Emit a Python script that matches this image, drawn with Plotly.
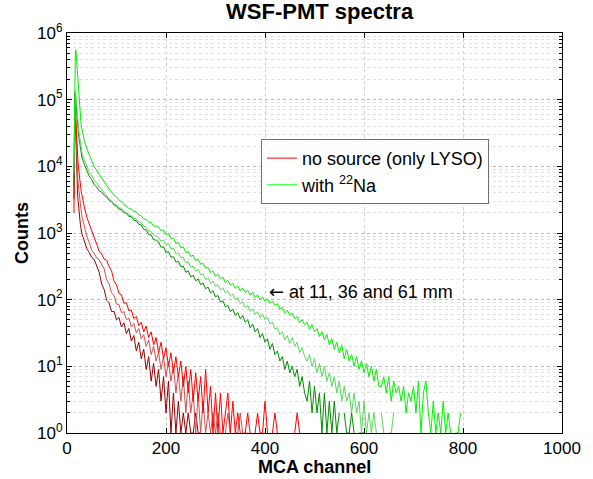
import plotly.graph_objects as go

# MCA channel grid (fine at the peak, every 5 channels afterwards)
CHANNELS = list(range(12, 31)) + list(range(35, 805, 5))

# ---- with 22Na (bright / medium / dark green = 11, 36, 61 mm) ----
NA_11MM = [0, 0, 14000, 150000, 380000, 540000, 560000, 420000, 330000, 262000,
           205000, 152000, 117000, 91000, 71000, 57500, 47000, 40000, 36000,
           24300, 18600, 14400, 12100, 9900, 8700, 7400, 6600, 5750, 5150,
           4550, 4150, 3700, 3500, 3100, 2950, 2650, 2540, 2320, 2280,
           2120, 2060, 1870, 1810, 1620, 1590, 1450, 1430, 1280, 1270,
           1230, 1080, 1110, 950, 985, 830, 840, 700, 720, 600,
           620, 505, 530, 445, 465, 385, 405, 340, 350, 295,
           305, 255, 270, 225, 240, 205, 218, 180, 195, 165,
           176, 148, 160, 135, 150, 128, 138, 117, 128, 108,
           118, 99, 110, 94, 103, 88, 96, 82, 87, 72,
           77, 63, 70, 58, 63, 52, 56, 45, 50, 42,
           46, 36, 42, 33, 37, 28, 33, 25, 30, 21,
           26, 18, 23, 16, 21, 13, 18, 12, 15, 10,
           14, 9, 12, 8, 11, 7, 10, 6, 9, 5,
           5, 7, 4, 7, 3, 6, 4, 5, 3, 5,
           2, 4, 3, 5, 2, 6, 1, 4, 6, 2,
           1, 3, 1, 2, 1, 3, 1, 2, 1, 0,
           1, 1, 2]

NA_36MM = [0, 0, 8000, 30000, 90000, 135000, 120000, 90000, 70000, 58000,
           48000, 40000, 34000, 29000, 25000, 22000, 19500, 17500, 16000,
           12300, 10100, 8200, 7300, 6200, 5650, 4950, 4550, 3950, 3650,
           3250, 3050, 2750, 2640, 2400, 2330, 2110, 2030, 1860, 1830,
           1660, 1620, 1470, 1420, 1270, 1220, 1080, 1050, 940, 905,
           850, 760, 775, 670, 690, 575, 590, 490, 505, 425,
           435, 355, 372, 305, 318, 268, 285, 236, 244, 200,
           212, 176, 190, 158, 168, 140, 150, 126, 136, 114,
           122, 100, 107, 87, 94, 76, 82, 67, 73, 60,
           66, 54, 61, 50, 55, 43, 46, 36, 38, 30,
           33, 25, 29, 22, 27, 20, 23, 16, 19, 14,
           12, 15, 10, 13, 8, 11, 7, 10, 6, 8,
           5, 7, 4, 6, 3, 5, 3, 4, 2, 4,
           2, 3, 1, 3, 1, 2, 1, 2, 1, 0,
           2, 1, 0, 1, 1, 2, 0, 1]

NA_61MM = [0, 0, 5000, 25000, 80000, 110000, 95000, 72000, 56000, 46000,
           38000, 32000, 27500, 24000, 21000, 18500, 16500, 15000, 13800,
           10700, 8800, 7100, 6300, 5300, 4900, 4300, 4100, 3650, 3500,
           3080, 2950, 2630, 2540, 2290, 2240, 2010, 1990, 1770, 1760,
           1560, 1530, 1350, 1320, 1130, 1110, 950, 935, 790, 785,
           735, 610, 620, 510, 525, 435, 440, 365, 375, 312,
           318, 258, 270, 220, 232, 192, 204, 168, 178, 146,
           155, 126, 136, 110, 116, 92, 96, 78, 82, 66,
           72, 58, 64, 52, 58, 46, 50, 38, 43, 33,
           37, 27, 31, 23, 26, 18, 22, 15, 17, 12,
           14, 9, 12, 8, 10, 7, 9, 5, 7, 4,
           3, 6, 2, 5, 2, 4, 1, 4, 1, 3,
           1, 3, 1, 2, 0, 2, 1, 1, 2, 1,
           0, 1, 1, 1]

# ---- no source, only LYSO (bright / medium / dark red) ----
LYSO_11MM = [0, 0, 2000, 30000, 90000, 70000, 45000, 30000, 21000, 16000,
             12500, 10000, 8200, 7000, 6000, 5200, 4600, 4100, 3700,
             2450, 1720, 1380, 1100, 830, 680, 530, 485, 405, 390,
             315, 270, 190, 168, 124, 118, 88, 90, 68, 70,
             52, 56, 41, 46, 33, 40, 27, 33, 21, 27,
             16, 23, 13, 19, 10, 16, 8, 14, 7, 12,
             5, 10, 4, 9, 3, 8, 3, 7, 2, 9,
             2, 5, 1, 4, 1, 4, 1, 2, 4, 1,
             3, 1, 2, 1, 0, 1, 2, 1, 0, 1,
             2, 1, 1, 3, 1, 0, 1, 2, 1, 0,
             0, 0, 0, 0, 0, 1, 2, 1]

LYSO_36MM = [0, 0, 5000, 60000, 110000, 60000, 30000, 17000, 11000, 8000,
             6200, 5000, 4200, 3600, 3100, 2700, 2350, 2050, 1800,
             1270, 890, 720, 545, 495, 420, 395, 330, 290, 200,
             172, 126, 116, 86, 84, 64, 66, 50, 53, 39,
             44, 32, 37, 26, 30, 20, 25, 15, 20, 12,
             16, 9, 14, 7, 12, 6, 10, 4, 8, 3,
             7, 2, 6, 2, 4, 1, 4, 1, 3, 1,
             2, 1, 2, 1, 2, 1, 0, 1, 2, 1,
             0, 1, 1, 2, 1, 1, 1]

LYSO_61MM = [0, 0, 3200, 40000, 130000, 60000, 25000, 12000, 7000, 4500,
             3300, 2600, 2100, 1800, 1550, 1350, 1200, 1080, 980,
             760, 580, 510, 430, 400, 330, 258, 172, 142, 98,
             90, 66, 67, 50, 54, 39, 45, 31, 37, 24,
             29, 17, 23, 13, 18, 9, 14, 6, 11, 5,
             9, 3, 7, 2, 6, 1, 4, 1, 3, 1,
             2, 1, 2, 1, 1, 2, 1, 1]

SERIES = [
    (LYSO_61MM, "#960000"),
    (LYSO_36MM, "#d05050"),
    (LYSO_11MM, "#ff0000"),
    (NA_61MM, "#008c00"),
    (NA_36MM, "#5ad65a"),
    (NA_11MM, "#00f000"),
]
LEGEND = [("no source (only LYSO)", "#ff5a5a"),
          ("with <sup>22</sup>Na", "#5aff5a")]

Y_DECADES = [1, 10, 100, 1000, 10000, 100000, 1000000]
Y_TICKTEXT = ["10<sup>%d</sup>" % k for k in range(7)]
Y_MINOR = [m * d for d in Y_DECADES[:-1] for m in range(2, 10)]
X_TICKS = [0, 200, 400, 600, 800, 1000]

FONT = "Liberation Sans, Arial, Helvetica, sans-serif"

fig = go.Figure()
for values, color in SERIES:
    xs = CHANNELS[:len(values)]
    ys = [v if v > 0 else None for v in values]
    fig.add_trace(go.Scatter(
        x=xs, y=ys, mode="lines", line=dict(color=color, width=1),
        showlegend=False, connectgaps=False, hoverinfo="skip"))
for name, color in LEGEND:
    fig.add_trace(go.Scatter(x=[None], y=[None], mode="lines", name=name,
                             line=dict(color=color, width=1.5),
                             showlegend=True))

DASH = "3px,3px"
fig.update_layout(
    width=593, height=479,
    margin=dict(l=67, r=21, t=33, b=46),
    paper_bgcolor="white", plot_bgcolor="white",
    font=dict(family=FONT, size=17, color="black"),
    title=dict(text="<b>WSF-PMT spectra</b>", x=0.539, xanchor="center",
               y=1 - 11 / 479, yanchor="middle",
               font=dict(family=FONT, size=22, color="black")),
    showlegend=True,
    legend=dict(x=0.392, y=0.735, xanchor="left", yanchor="top",
                bgcolor="white", bordercolor="#707070", borderwidth=1,
                font=dict(family=FONT, size=18), traceorder="normal",
                itemwidth=30, tracegroupgap=0),
)

fig.update_xaxes(
    range=[0, 1000], tickmode="array", tickvals=X_TICKS,
    showline=True, linecolor="black", linewidth=1, mirror="ticks",
    ticks="inside", ticklen=5, tickcolor="black",
    showgrid=True, gridcolor="#cfcfcf", griddash=DASH, gridwidth=1,
    zeroline=False, tickfont=dict(size=17),
)
fig.update_yaxes(
    type="log", range=[0, 6], tickmode="array", tickvals=Y_DECADES,
    ticktext=Y_TICKTEXT,
    showline=True, linecolor="black", linewidth=1, mirror="ticks",
    ticks="inside", ticklen=5, tickcolor="black",
    showgrid=True, gridcolor="#bdbdbd", griddash=DASH, gridwidth=1,
    zeroline=False, tickfont=dict(size=17),
    minor=dict(tickmode="array", tickvals=Y_MINOR, ticks="inside",
               ticklen=3, tickcolor="black", showgrid=True,
               gridcolor="#e0e0e0", griddash=DASH, gridwidth=1),
)

fig.add_annotation(text="<b>MCA channel</b>", xref="paper", yref="paper",
                   x=0.5, y=-0.084, xanchor="center", yanchor="middle",
                   showarrow=False, font=dict(family=FONT, size=18))
fig.add_annotation(text="<b>Counts</b>", xref="paper", yref="paper",
                   x=-0.091, y=0.5, xanchor="center", yanchor="middle",
                   textangle=-90, showarrow=False,
                   font=dict(family=FONT, size=18))
fig.add_annotation(
    text="<span style=\"font-family:'DejaVu Sans'\">\u2190</span> at 11, 36 and 61 mm",
    xref="x", yref="y", x=405, y=2.13, xanchor="left", yanchor="middle",
    showarrow=False, font=dict(family=FONT, size=18))

fig.write_html("out.html")
